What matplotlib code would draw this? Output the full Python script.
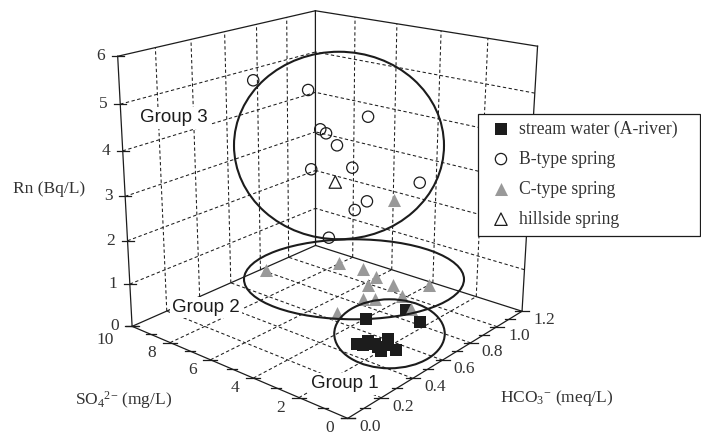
import numpy as np
import matplotlib
matplotlib.use("Agg")
import matplotlib.pyplot as plt
from matplotlib.lines import Line2D
from matplotlib.patches import Ellipse, Rectangle
from matplotlib.transforms import Affine2D
from mpl_toolkits.mplot3d import Axes3D

plt.rcParams['font.family'] = 'Liberation Serif'
plt.rcParams['mathtext.fontset'] = 'custom'
plt.rcParams['mathtext.rm'] = 'Liberation Serif'
plt.rcParams['mathtext.it'] = 'Liberation Serif:italic'

# ---------- data (SO4 mg/L, HCO3 meq/L, Rn Bq/L) ----------
stream_so4 = [3.56, 2.90, 1.94, 2.76, 2.61, 2.54, 2.28, 2.16, 1.81, 1.45, 2.06, 1.88]
stream_hco3 = [0.637, 0.816, 0.761, 0.458, 0.512, 0.469, 0.507, 0.574, 0.475, 0.519, 0.496, 0.535]
stream_rn = [0.2, 0.2, 0.2, 0.1, 0.1, 0.1, 0.1, 0.1, 0.1, 0.1, 0.1, 0.1]
b_so4 = [6.52, 5.09, 3.67, 4.67, 4.57, 4.43, 5.04, 4.07, 2.20, 3.55, 3.89, 4.78]
b_hco3 = [0.341, 0.478, 0.651, 0.494, 0.516, 0.565, 0.489, 0.612, 0.775, 0.633, 0.604, 0.565]
b_rn = [5.5, 5.3, 4.7, 4.5, 4.4, 4.1, 3.6, 3.6, 3.3, 2.9, 2.7, 2.0]
c_so4 = [2.92, 8.50, 6.77, 5.69, 4.90, 4.65, 3.94, 2.93, 3.32, 4.23, 3.90, 4.43, 2.60]
c_hco3 = [0.717, 0.646, 0.921, 0.937, 0.907, 0.813, 0.883, 0.985, 0.851, 0.715, 0.751, 0.573, 0.801]
c_rn = [2.9, 0.5, 0.5, 0.5, 0.5, 0.5, 0.5, 0.5, 0.4, 0.4, 0.4, 0.3, 0.3]
hill_so4 = [4.47]
hill_hco3 = [0.561]
hill_rn = [3.3]

so4_ticks = [0, 2, 4, 6, 8, 10]
hco3_ticks = [0.0, 0.2, 0.4, 0.6, 0.8, 1.0, 1.2]
rn_ticks = [0, 1, 2, 3, 4, 5, 6]
so4_minor = [1, 3, 5, 7, 9]
hco3_minor = [0.1, 0.3, 0.5, 0.7, 0.9, 1.1]
series_labels = ['stream water (A-river)', 'B-type spring', 'C-type spring', 'hillside spring']

# ---------- camera: fitted to where the box's axes lie in the picture ----------
W, H = 701, 437
cal_3d = [(10, 0, z) for z in rn_ticks] + [(x, 0, 0) for x in [0, 2, 4, 6, 8]] + \
         [(0, y, 0) for y in hco3_ticks[1:]] + [(10, 1.2, 0), (10, 1.2, 6), (0, 1.2, 6)]
cal_px = [(133, 327), (131.7, 284), (128, 241), (126, 197), (123, 151), (120.7, 104), (116.7, 56),
          (350, 418), (296.7, 396.7), (251.7, 378.3), (208, 360), (168.3, 342.7),
          (383.3, 396.7), (415, 378.3), (440, 360), (471.7, 343.3), (496.7, 326.7), (521.7, 311.7),
          (316, 245), (315, 10), (537.5, 47)]
rows = []
for (x, y, z), (u, v) in zip(cal_3d, cal_px):
    X = [x, y, z, 1]
    rows.append(X + [0, 0, 0, 0] + [-u * t for t in X])
    rows.append([0, 0, 0, 0] + X + [-v * t for t in X])
sc = np.array([1 / 10, 1 / 1.2, 1 / 6, 1] * 3)
_, _, Vt = np.linalg.svd(np.array(rows, float) * sc)
P = (Vt[-1] * sc).reshape(3, 4)
P /= P[2, 3]
centre = np.linalg.svd(P)[2][-1]
# mplot3d wants normalised view coordinates in [-1, 1] and negative depth
to_view = np.array([[2 / W, 0, -1], [0, 2 / H, -1], [0, 0, 1]])
Q = to_view @ P
M4 = np.vstack([Q[0], Q[1], -Q[2] + 1e-3 * centre, Q[2]])


class Fixed3D(Axes3D):
    def get_proj(self):
        return M4

    def apply_aspect(self, position=None):
        self._set_position(self.get_position(original=True), 'active')


def project(x, y, z):
    h = P @ np.array([x, y, z, 1.0])
    return h[0] / h[2], h[1] / h[2]


fig = plt.figure(figsize=(W / 100, H / 100), dpi=100)
PX = Affine2D().scale(1, -1).translate(0, H)   # picture pixels, top-left origin
ax = Fixed3D(fig, [0, 0, 1, 1], computed_zorder=False)
fig.add_axes(ax)
ax.set_axis_off()
ax.set_xlim(0, 10)
ax.set_ylim(0, 1.2)
ax.set_zlim(0, 6)
ax.set_autoscale_on(False)
ax.viewLim.intervalx = (-1, 1)
ax.viewLim.intervaly = (1, -1)

INK = '#1c1c1c'
TXT = '#333333'
dash = dict(color=INK, lw=0.75, dashes=(3.2, 2.4), zorder=1)
solid = dict(color=INK, lw=0.9, zorder=2)
xm, ym, zm = so4_ticks[-1], hco3_ticks[-1], rn_ticks[-1]

# grid on floor and on the two back walls
for x in so4_ticks[1:-1]:
    ax.plot([x, x], [0, ym], [0, 0], **dash)
    ax.plot([x, x], [ym, ym], [0, zm], **dash)
for y in hco3_ticks[1:-1]:
    ax.plot([0, xm], [y, y], [0, 0], **dash)
    ax.plot([xm, xm], [y, y], [0, zm], **dash)
for z in rn_ticks[1:-1]:
    ax.plot([xm, xm], [0, ym], [z, z], **dash)
    ax.plot([0, xm], [ym, ym], [z, z], **dash)

# box edges
ax.plot([0, xm], [0, 0], [0, 0], **solid)
ax.plot([0, 0], [0, ym], [0, 0], **solid)
ax.plot([xm, xm], [0, ym], [0, 0], **solid)
ax.plot([0, xm], [ym, ym], [0, 0], **solid)
ax.plot([xm, xm], [0, 0], [0, zm], **solid)
ax.plot([xm, xm], [ym, ym], [0, zm], **solid)
ax.plot([0, 0], [ym, ym], [0, zm], **solid)
ax.plot([xm, xm], [0, ym], [zm, zm], **solid)
ax.plot([0, xm], [ym, ym], [zm, zm], **solid)


def tick(x, y, z, half):
    u, v = project(x, y, z)
    fig.add_artist(Line2D([u - half, u + half], [v, v], color=INK, lw=0.9, transform=PX))


def label(x, y, z, s, dx, dy, ha='center'):
    u, v = project(x, y, z)
    fig.text(u + dx, v + dy, s, transform=PX, ha=ha, va='center', fontsize=12.5, color=TXT)


for z in rn_ticks:
    tick(xm, 0, z, 6)
    label(xm, 0, z, str(z), -17, 0)
for x in so4_ticks:
    tick(x, 0, 0, 7)
    if x == xm:
        label(x, 0, 0, str(x), -18, 14, ha='right')
    else:
        label(x, 0, 0, str(x), -14, 10, ha='right')
for x in so4_minor:
    tick(x, 0, 0, 5)
for y in hco3_ticks:
    tick(0, y, 0, 7)
    label(0, y, 0, f'{y:.1f}', 22, 9)
for y in hco3_minor:
    tick(0, y, 0, 5)

# points
h1 = ax.scatter(stream_so4, stream_hco3, stream_rn, marker='s', s=80, c=INK, linewidths=0,
                depthshade=False, zorder=4, label=series_labels[0])
h2 = ax.scatter(b_so4, b_hco3, b_rn, marker='o', s=66, facecolors='none', edgecolors=INK, linewidths=0.9,
                depthshade=False, zorder=4, label=series_labels[1])
h3 = ax.scatter(c_so4, c_hco3, c_rn, marker='^', s=88, c='#999999', linewidths=0,
                depthshade=False, zorder=4, label=series_labels[2])
h4 = ax.scatter(hill_so4, hill_hco3, hill_rn, marker='^', s=80, facecolors='none', edgecolors=INK, linewidths=0.9,
                depthshade=False, zorder=4, label=series_labels[3])

# hand-drawn group outlines, placed in picture coordinates
for cx, cy, w, h in [(339, 145.5, 210, 187.5), (354, 279.3, 220, 80), (389.5, 333.8, 110.5, 69)]:
    fig.add_artist(Ellipse((cx, cy), w, h, fill=False, edgecolor=INK, lw=1.5, transform=PX))
for s, cx, cy in [('Group 3', 174, 118), ('Group 2', 206, 307.7), ('Group 1', 345, 384)]:
    fig.text(cx, cy, s, transform=PX, ha='center', va='center', family='Liberation Sans',
             fontsize=13.5, color=INK, bbox=dict(fc='white', ec='none', pad=1.5))

# axis titles
fig.text(13, 189, 'Rn (Bq/L)', transform=PX, ha='left', va='center', fontsize=12.5, color=TXT)
fig.text(75, 400, r'SO$_{4}$$^{2\mathrm{-}}$ (mg/L)', transform=PX, ha='left', va='center',
         fontsize=12.5, color=TXT)
fig.text(500, 398, r'HCO$_{3}$$^{\mathrm{-}}$ (meq/L)', transform=PX, ha='left', va='center',
         fontsize=12.5, color=TXT)

# legend, above everything else, in a box wider than its content
fig.add_artist(Rectangle((477.5, 114), 222.5, 122, fc='white', ec=INK, lw=0.9, zorder=8, transform=PX))
leg = fig.legend(handles=[h1, h2, h3, h4], loc='upper left', bbox_to_anchor=(477.5 / W, 1 - 114.5 / H),
                 bbox_transform=fig.transFigure, borderaxespad=0, frameon=False, fontsize=12.7,
                 labelspacing=0.74, handletextpad=0.0, handlelength=2, borderpad=0.33, labelcolor=TXT)
leg.set_zorder(9)
fig.savefig('out.png', dpi=100)
